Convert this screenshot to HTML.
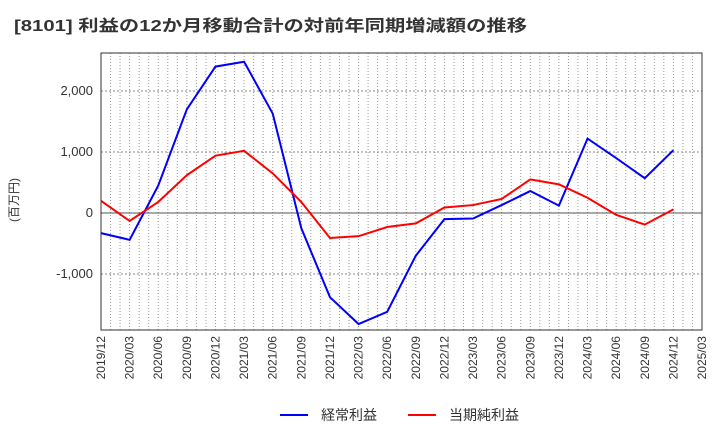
<!DOCTYPE html>
<html><head><meta charset="utf-8"><style>
body{margin:0;background:#fff;font-family:"Liberation Sans","Noto Sans CJK JP",sans-serif;}
</style></head><body>
<svg width="720" height="440" xmlns="http://www.w3.org/2000/svg" style="font-family:'Liberation Sans','Noto Sans CJK JP',sans-serif">
<text x="14" y="31" font-size="16" font-weight="bold" fill="#333" textLength="513" lengthAdjust="spacingAndGlyphs">[8101]  利益の12か月移動合計の対前年同期増減額の推移</text>
<text transform="translate(18,200) rotate(-90)" font-size="12" fill="#333" text-anchor="middle">(百万円)</text>
<g id="grid"></g>
<g id="axes"></g>
<g id="series"></g>
<g>
<line x1="280" y1="415" x2="308" y2="415" stroke="#0000ff" stroke-width="2"/>
<text x="321" y="420" font-size="14" fill="#333">経常利益</text>
<line x1="408" y1="415" x2="436" y2="415" stroke="#ff0000" stroke-width="2"/>
<text x="449" y="420" font-size="14" fill="#333">当期純利益</text>
</g>
</svg>
<script>
const categories=["2019/12","2020/03","2020/06","2020/09","2020/12","2021/03","2021/06","2021/09","2021/12","2022/03","2022/06","2022/09","2022/12","2023/03","2023/06","2023/09","2023/12","2024/03","2024/06","2024/09","2024/12","2025/03"];
const ordinary=[-330,-440,450,1700,2400,2480,1630,-250,-1380,-1820,-1620,-700,-100,-90,130,360,120,1220,900,570,1030];
const net=[200,-130,180,620,940,1020,650,180,-410,-380,-230,-170,90,130,230,550,470,250,-30,-190,60];
const yTicks=[-1000,0,1000,2000];
const yTickLabels=["-1,000","0","1,000","2,000"];
const L=101,R=702,T=53,B=330;
const NS="http://www.w3.org/2000/svg";
const x=i=>L+(R-L)*i/(categories.length-1);
const y=v=>213-v*0.061;
function mk(t,a,p){const e=document.createElementNS(NS,t);for(const k in a)e.setAttribute(k,a[k]);p.appendChild(e);return e;}
const g=document.getElementById('grid'),ax=document.getElementById('axes'),s=document.getElementById('series');
for(let m=1;m<63;m++){const xx=L+(R-L)*m/63;const l=mk('line',{x1:xx,x2:xx,y1:T,y2:B,stroke:'#999','stroke-dasharray':'1,2','stroke-width':1},g);

}
yTicks.forEach((v,i)=>{const l=mk('line',{x1:L,x2:R,y1:y(v),y2:y(v),stroke:v===0?'#555':'#888','stroke-dasharray':v===0?'none':'2,2','stroke-width':1},g);


const t=mk('text',{x:L-8,y:y(v)+4,'font-size':13,fill:'#333','text-anchor':'end'},ax);t.textContent=yTickLabels[i];

});
const fr=mk('rect',{x:L,y:T,width:R-L,height:B-T,fill:'none',stroke:'#333','stroke-width':1},ax);


categories.forEach((c,i)=>{const t=mk('text',{transform:`translate(${x(i)+4},${B+6}) rotate(-90)`,'font-size':12,fill:'#333','text-anchor':'end'},ax);t.textContent=c;

});
[[ordinary,'#0000ff','line-ordinary-profit'],[net,'#ff0000','line-net-profit']].forEach(([d,c,n])=>{
const p=mk('polyline',{points:d.map((v,i)=>x(i)+','+y(v)).join(' '),fill:'none',stroke:c,'stroke-width':2},s);

});
</script>
</body></html>
